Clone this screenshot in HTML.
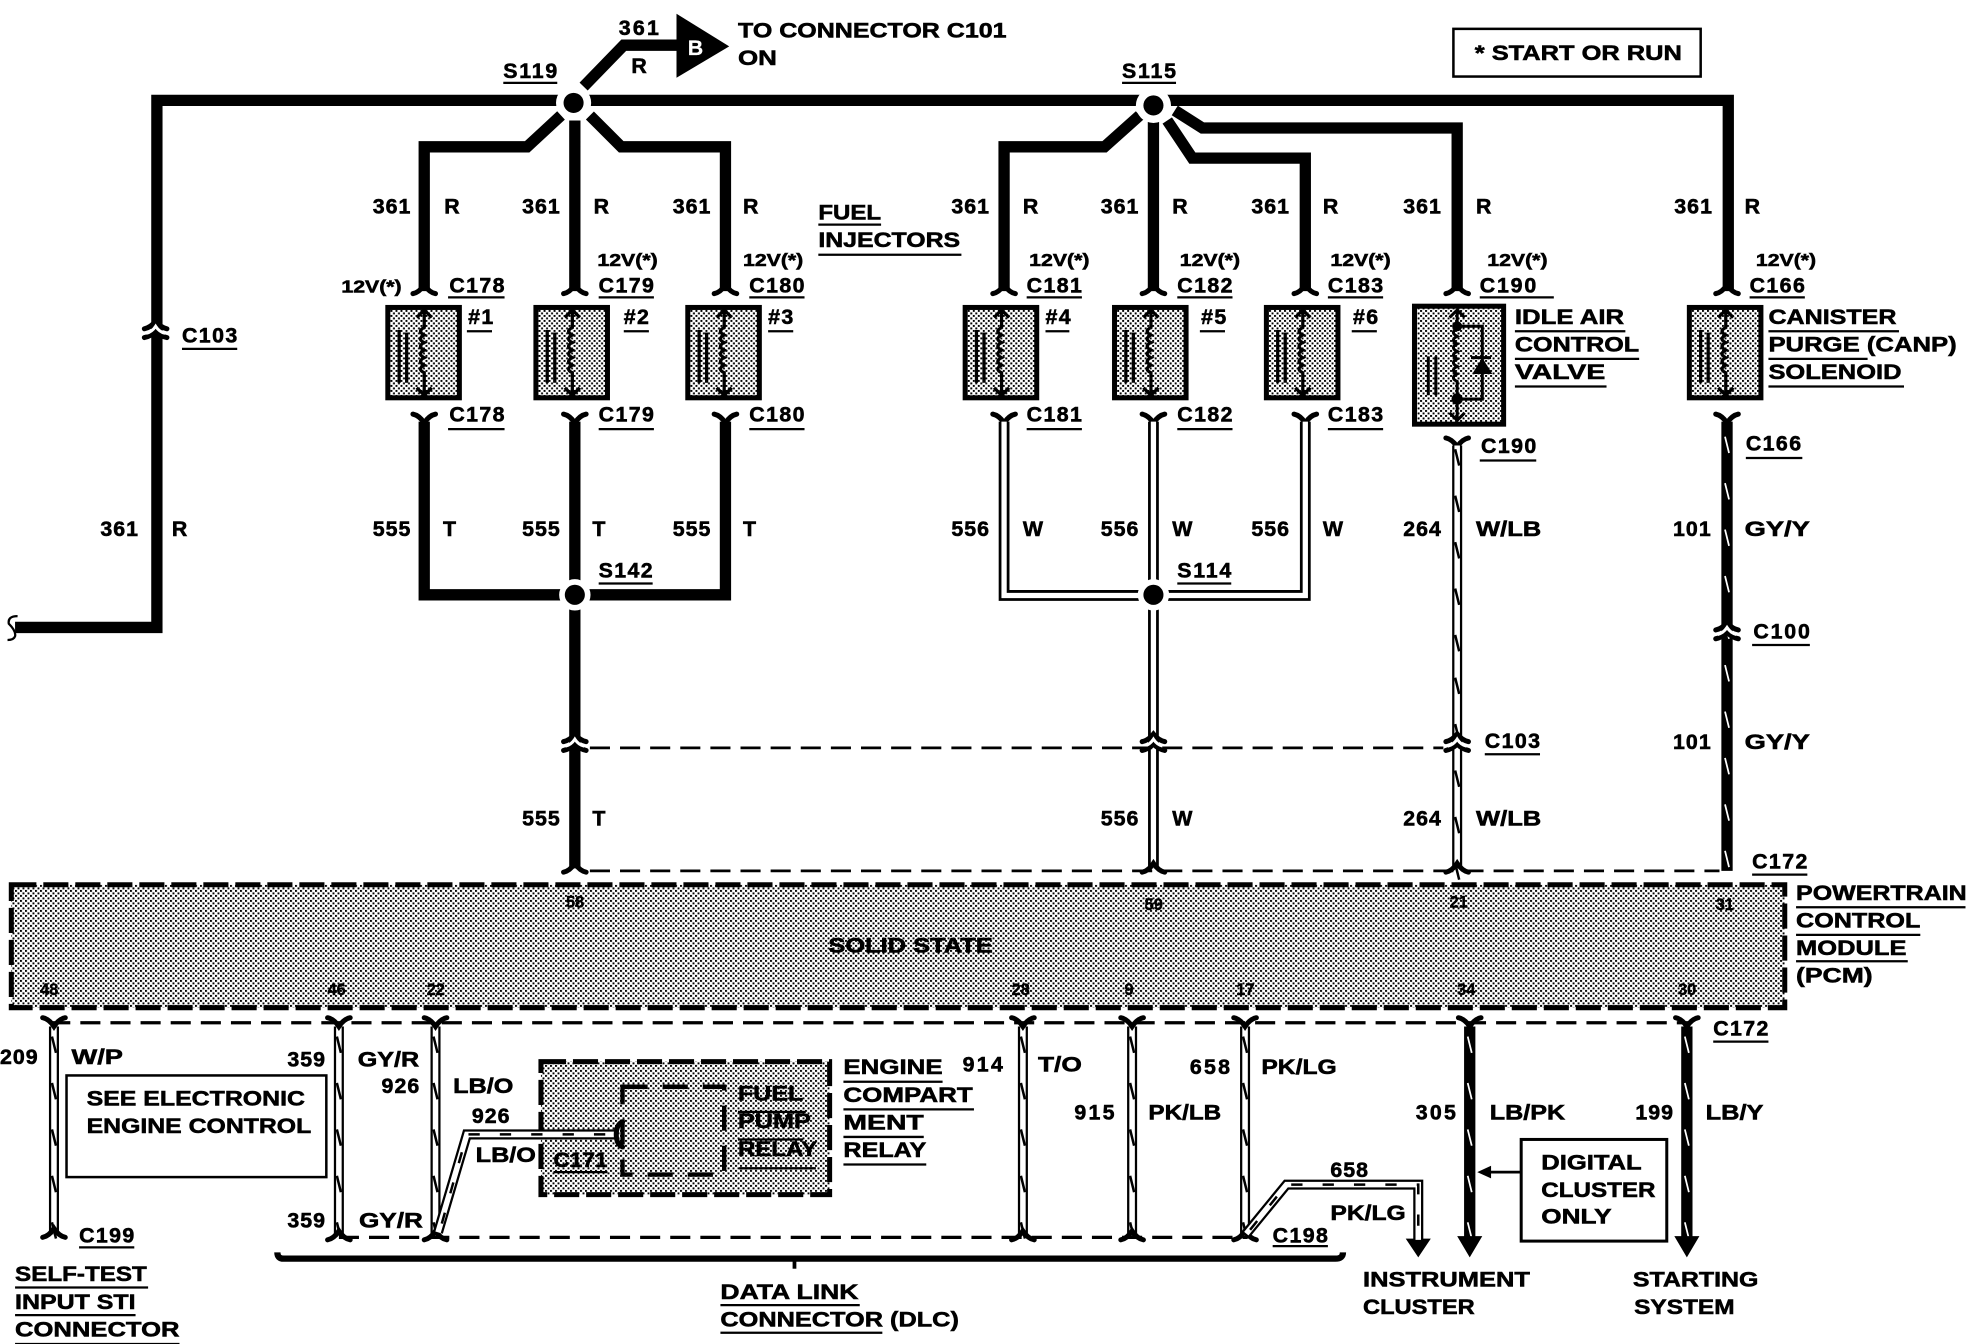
<!DOCTYPE html>
<html><head><meta charset="utf-8"><style>
html,body{margin:0;padding:0;background:#fff}
svg{display:block}
text{font-family:"Liberation Sans",sans-serif;font-weight:bold;font-size:17px;fill:#000;stroke:#000;stroke-width:.45px}
.s{font-size:14px}
.p{font-size:13px;stroke-width:.3px}
.w{fill:none;stroke:#000;stroke-width:9;stroke-linejoin:miter}
.n{fill:none;stroke:#000;stroke-width:2.2}
.u{fill:none;stroke:#000;stroke-width:1.8}
.d{fill:none;stroke:#000;stroke-width:2.2;stroke-dasharray:16 8}
.f{fill:none;stroke:#000;stroke-width:4;stroke-linecap:round}
.o{fill:none;stroke:#000;stroke-width:8}
.i{fill:none;stroke:#fff;stroke-width:4.4}
.k{fill:none;stroke:#000;stroke-width:2}
.t{fill:none;stroke:#fff;stroke-width:1.4}
</style></head><body>
<svg width="1968" height="1344" viewBox="0 0 1568 1071" preserveAspectRatio="none" xmlns="http://www.w3.org/2000/svg">
<defs>
<pattern id="st" width="3.984" height="3.984" patternUnits="userSpaceOnUse"><rect width="3.984" height="3.984" fill="#fff"/><rect width="1.55" height="1.55" fill="#000"/><rect x="1.992" y="1.992" width="1.55" height="1.55" fill="#000"/></pattern>
<path id="tb" d="M-1.6,0l3.2,13M-1.6,37l3.2,13M-1.6,74l3.2,13M-1.6,111l3.2,13M-1.6,148l3.2,13"/>
<g id="fu"><path class="f" d="M-9,7Q-4,6 0,0Q4,6 9,7"/></g>
<g id="fd"><path class="f" d="M-9,0Q-4,1 0,7Q4,1 9,0"/></g>
<g id="ic">
<path class="f" d="M-9,-1Q-4,-2 0,-7Q4,-2 9,-1"/>
<path class="f" d="M-9,6Q-4,5 0,1Q4,5 9,6"/>
<path fill="none" stroke="#fff" stroke-width="2.4" d="M-7.500,2.600Q-3,1.600 0,-3Q3,1.600 7.500,2.600"/>
</g>
<g id="inj">
<rect x="-30" y="2" width="57" height="72" fill="url(#st)" stroke="#000" stroke-width="4"/>
<path fill="none" stroke="#000" stroke-width="2.6" d="M-21,20V62M-15,22V62M-1,4V18q-6,3 0,6q-6,3 0,6q-6,3 0,6q-6,3 0,6q-6,3 0,6q-6,3 0,6V72M-7,10L-1,4L5,10M-7,66L-1,72L5,66"/>
</g>
</defs>

<!-- top wiring -->
<path class="w" d="M12,500H125V80H1377V232"/>
<path fill="none" stroke="#000" stroke-width="1.800" d="M14,491Q6,491 7,497Q13,503 12,507Q11,510 6,510"/>
<use href="#ic" x="124" y="263"/>
<path class="w" d="M465,69L497,36H545"/>
<path d="M539,11L581,37L539,62Z" fill="#000"/>
<path class="w" d="M447,92L420,117H338V232M458,96V232M470,92L495,117H578V232"/>
<path class="w" d="M908,92L880,117H800V232M919,96V232M930,96L950,126H1040V232M936,88L958,102H1161V232"/>
<circle cx="457" cy="82" r="14" fill="#fff"/><circle cx="457" cy="82" r="8" fill="#000"/>
<circle cx="919" cy="84" r="14" fill="#fff"/><circle cx="919" cy="84" r="8" fill="#000"/>

<!-- connectors above devices -->
<use href="#fu" x="338" y="227"/><use href="#fu" x="458" y="227"/><use href="#fu" x="578" y="227"/>
<use href="#fu" x="800" y="227"/><use href="#fu" x="919" y="227"/><use href="#fu" x="1040" y="227"/>
<use href="#fu" x="1161" y="227"/><use href="#fu" x="1376" y="227"/>

<!-- devices -->
<use href="#inj" x="339" y="243"/><use href="#inj" x="457" y="243"/><use href="#inj" x="578" y="243"/>
<use href="#inj" x="799" y="243"/><use href="#inj" x="918" y="243"/><use href="#inj" x="1039" y="243"/>
<use href="#inj" x="1376" y="243"/>
<rect x="1127" y="244" width="71" height="94" fill="url(#st)" stroke="#000" stroke-width="4"/>
<path fill="none" stroke="#000" stroke-width="2.4" d="M1161,247V262q-6,3 0,6q-6,3 0,6q-6,3 0,6q-6,3 0,6q-6,3 0,6q-6,3 0,6q-6,3 0,6V335M1155,253L1161,247L1167,253M1155,329L1161,335L1167,329M1161,260H1181V318H1161M1172,285H1188M1144,284V315M1138,284V315"/>
<path d="M1173,298L1181,285L1189,298Z" fill="#000"/>
<circle cx="1161" cy="260" r="4" fill="#000"/><circle cx="1161" cy="318" r="4.5" fill="#000"/>

<!-- below devices -->
<use href="#fd" x="338" y="330"/><use href="#fd" x="458" y="330"/><use href="#fd" x="578" y="330"/>
<use href="#fd" x="800" y="330"/><use href="#fd" x="919" y="330"/><use href="#fd" x="1040" y="330"/>
<use href="#fd" x="1161" y="349"/><use href="#fd" x="1376" y="330"/>
<path class="w" d="M338,336V474H578V336M458,336V692"/>
<circle cx="458" cy="474" r="12.500" fill="#fff"/><circle cx="458" cy="474" r="8" fill="#000"/>
<path fill="none" stroke="#000" stroke-width="8.600" d="M800,336V474.500H1040V336M919,336V692"/>
<path fill="none" stroke="#fff" stroke-width="4.200" d="M800,336V474.500H1040V336M919,336V692"/>
<circle cx="919" cy="474" r="12.500" fill="#fff"/><circle cx="919" cy="474" r="8" fill="#000"/>
<path class="o" d="M1161,355V692"/><path class="i" d="M1161,355V692"/>
<use href="#tb" class="k" x="1161" y="358"/><use href="#tb" class="k" x="1161" y="540"/>
<path class="w" d="M1376,336V694"/>
<use href="#tb" class="t" x="1376" y="348"/><use href="#tb" class="t" x="1376" y="530"/>
<use href="#ic" x="1376" y="503"/>
<use href="#ic" x="458" y="592"/><use href="#ic" x="919" y="592"/><use href="#ic" x="1161" y="592"/>
<path class="d" d="M470,596H1150"/>
<path class="d" d="M470,694H1370"/>
<use href="#fu" x="458" y="688"/><use href="#fu" x="919" y="688"/><use href="#fu" x="1161" y="688"/>

<!-- PCM -->
<rect x="9" y="705" width="1413" height="98" fill="url(#st)" stroke="#000" stroke-width="4" stroke-dasharray="20 5.500"/>

<!-- lower dashed lines -->
<path class="d" d="M40,815H1346" style="stroke-width:2.6"/>
<path class="d" d="M270,986H994" style="stroke-width:2.6"/>

<!-- lower wires -->
<path class="o" d="M43,818V984M270,818V984M347,818V984M815,818V984M902,818V984M992,818V984"/>
<path class="i" d="M43,818V984M270,818V984M347,818V984M815,818V984M902,818V984M992,818V984"/>
<use href="#tb" class="k" x="43" y="826"/><use href="#tb" class="k" x="270" y="826"/><use href="#tb" class="k" x="347" y="826"/><use href="#tb" class="k" x="815" y="826"/><use href="#tb" class="k" x="902" y="826"/><use href="#tb" class="k" x="992" y="826"/>
<use href="#fd" x="43" y="811"/><use href="#fd" x="270" y="811"/><use href="#fd" x="347" y="811"/><use href="#fd" x="815" y="811"/><use href="#fd" x="902" y="811"/><use href="#fd" x="992" y="811"/><use href="#fd" x="1171" y="811"/><use href="#fd" x="1344" y="811"/>
<use href="#fu" x="43" y="979"/><use href="#fu" x="270" y="981"/><use href="#fu" x="347" y="981"/><use href="#fu" x="815" y="981"/><use href="#fu" x="902" y="981"/><use href="#fu" x="992" y="981"/>
<path class="w" d="M1171,818V990M1344,818V990"/>
<use href="#tb" class="t" x="1171" y="826"/><use href="#tb" class="t" x="1344" y="826"/>
<path d="M1161,985H1181L1171,1002ZM1334,985H1354L1344,1002ZM1120,987H1140L1130,1002Z" fill="#000"/>

<!-- engine compartment -->
<rect x="431" y="846" width="230" height="106" fill="url(#st)" stroke="#000" stroke-width="4" stroke-dasharray="20 5.500"/>
<rect x="496" y="866" width="81" height="70" fill="url(#st)" stroke="#000" stroke-width="3.500" stroke-dasharray="20 12"/>
<!-- LB/O branch -->
<path class="o" d="M349,982L372,904H491"/><path class="i" d="M349,982L372,904H491"/><path class="k" stroke-dasharray="9 16" d="M352,975L372,904H491"/>
<path class="f" d="M496,894Q491,896 491,904Q491,912 496,914"/>
<!-- 658 branch -->
<path class="o" d="M993,983L1025,944H1130V988"/><path class="i" d="M993,983L1025,944H1130V988"/><path class="k" stroke-dasharray="9 16" d="M996,980L1025,944H1130V985"/>

<!-- boxes -->
<rect x="53" y="857" width="207" height="81" fill="#fff" stroke="#000" stroke-width="2"/>
<rect x="1212" y="908" width="116" height="81" fill="#fff" stroke="#000" stroke-width="2.400"/>
<rect x="1158" y="23" width="197" height="38" fill="#fff" stroke="#000" stroke-width="2"/>
<path d="M1177,934L1188,929V939Z" fill="#000"/><path class="n" d="M1186,934H1212"/>
<!-- DLC brace -->
<path d="M221,998Q221,1003 226,1003H1064Q1070,1003 1070,998" fill="none" stroke="#000" stroke-width="5"/>
<path fill="none" stroke="#000" stroke-width="3" d="M633,1005V1011"/>

<!-- underlines -->
<path class="u" d="M401,66H444M894,66H937M357,237H402M477,237H521M597,237H641M818,237H862M938,237H982M1058,237H1102M1179,237H1238M1394,237H1438
M372,264H392M497,264H517M612,264H632M833,264H852M956,264H976M1077,264H1097
M357,342H402M477,342H521M597,342H641M818,342H862M938,342H982M1058,342H1102M1179,367H1224M1391,365H1436
M145,278H189M652,179H702M652,203H766M477,465H520M938,465H981M1396,514H1442M1183,601H1227M1396,697H1440
M1207,264H1295M1207,286H1306M1207,308H1280M1409,264H1513M1409,286H1488M1409,308H1517
M1431,723H1566M1431,745H1530M1431,766H1520
M672,862H751M672,884H776M672,906H736M672,928H738
M588,886H642M588,908H640M589,931H650M441,934H484
M1365,830H1409M63,994H107M1014,993H1058
M12,1026H118M12,1048H108M12,1071H143M574,1040H685M574,1062H703"/>

<!-- texts -->
<text x="493" y="28" textLength="32">361</text><text x="503" y="58">R</text>
<text x="548" y="44" style="fill:#fff;stroke:#fff;stroke-width:.2">B</text>
<text x="588" y="30" textLength="214" lengthAdjust="spacingAndGlyphs">TO CONNECTOR C101</text><text x="588" y="52" textLength="31" lengthAdjust="spacingAndGlyphs">ON</text>
<text x="401" y="62" textLength="43">S119</text><text x="894" y="62" textLength="43">S115</text>
<text x="1175" y="48" textLength="165" lengthAdjust="spacingAndGlyphs">* START OR RUN</text>

<text x="297" y="170" textLength="30">361</text><text x="354" y="170">R</text>
<text x="416" y="170" textLength="30">361</text><text x="473" y="170">R</text>
<text x="536" y="170" textLength="30">361</text><text x="592" y="170">R</text>
<text x="758" y="170" textLength="30">361</text><text x="815" y="170">R</text>
<text x="877" y="170" textLength="30">361</text><text x="934" y="170">R</text>
<text x="997" y="170" textLength="30">361</text><text x="1054" y="170">R</text>
<text x="1118" y="170" textLength="30">361</text><text x="1176" y="170">R</text>
<text x="1334" y="170" textLength="30">361</text><text x="1390" y="170">R</text>
<text x="652" y="175" textLength="50" lengthAdjust="spacingAndGlyphs">FUEL</text><text x="652" y="197" textLength="113" lengthAdjust="spacingAndGlyphs">INJECTORS</text>

<text class="s" x="272" y="233" textLength="48" lengthAdjust="spacingAndGlyphs">12V(*)</text>
<text class="s" x="476" y="212" textLength="48" lengthAdjust="spacingAndGlyphs">12V(*)</text>
<text class="s" x="592" y="212" textLength="48" lengthAdjust="spacingAndGlyphs">12V(*)</text>
<text class="s" x="820" y="212" textLength="48" lengthAdjust="spacingAndGlyphs">12V(*)</text>
<text class="s" x="940" y="212" textLength="48" lengthAdjust="spacingAndGlyphs">12V(*)</text>
<text class="s" x="1060" y="212" textLength="48" lengthAdjust="spacingAndGlyphs">12V(*)</text>
<text class="s" x="1185" y="212" textLength="48" lengthAdjust="spacingAndGlyphs">12V(*)</text>
<text class="s" x="1399" y="212" textLength="48" lengthAdjust="spacingAndGlyphs">12V(*)</text>

<text x="358" y="233" textLength="44">C178</text><text x="477" y="233" textLength="44">C179</text><text x="597" y="233" textLength="44">C180</text>
<text x="818" y="233" textLength="44">C181</text><text x="938" y="233" textLength="44">C182</text><text x="1058" y="233" textLength="44">C183</text>
<text x="1179" y="233" textLength="45">C190</text><text x="1394" y="233" textLength="44">C166</text>
<text x="373" y="258" textLength="20">#1</text><text x="497" y="258" textLength="20">#2</text><text x="612" y="258" textLength="20">#3</text>
<text x="833" y="258" textLength="20">#4</text><text x="957" y="258" textLength="20">#5</text><text x="1078" y="258" textLength="20">#6</text>
<text x="1207" y="258" textLength="87" lengthAdjust="spacingAndGlyphs">IDLE AIR</text><text x="1207" y="280" textLength="99" lengthAdjust="spacingAndGlyphs">CONTROL</text><text x="1207" y="302" textLength="72" lengthAdjust="spacingAndGlyphs">VALVE</text>
<text x="1409" y="258" textLength="102" lengthAdjust="spacingAndGlyphs">CANISTER</text><text x="1409" y="280" textLength="150" lengthAdjust="spacingAndGlyphs">PURGE (CANP)</text><text x="1409" y="302" textLength="106" lengthAdjust="spacingAndGlyphs">SOLENOID</text>
<text x="358" y="336" textLength="44">C178</text><text x="477" y="336" textLength="44">C179</text><text x="597" y="336" textLength="44">C180</text>
<text x="818" y="336" textLength="44">C181</text><text x="938" y="336" textLength="44">C182</text><text x="1058" y="336" textLength="44">C183</text>
<text x="1180" y="361" textLength="44">C190</text><text x="1391" y="359" textLength="44">C166</text>
<text x="145" y="273" textLength="44">C103</text>

<text x="80" y="427" textLength="30">361</text><text x="137" y="427">R</text>
<text x="297" y="427" textLength="30">555</text><text x="353" y="427">T</text>
<text x="416" y="427" textLength="30">555</text><text x="472" y="427">T</text>
<text x="536" y="427" textLength="30">555</text><text x="592" y="427">T</text>
<text x="758" y="427" textLength="30">556</text><text x="815" y="427">W</text>
<text x="877" y="427" textLength="30">556</text><text x="934" y="427">W</text>
<text x="997" y="427" textLength="30">556</text><text x="1054" y="427">W</text>
<text x="1118" y="427" textLength="30">264</text><text x="1176" y="427" textLength="52" lengthAdjust="spacingAndGlyphs">W/LB</text>
<text x="1333" y="427" textLength="30">101</text><text x="1390" y="427" textLength="52" lengthAdjust="spacingAndGlyphs">GY/Y</text>
<text x="477" y="460" textLength="43">S142</text><text x="938" y="460" textLength="43">S114</text>
<text x="1397" y="509" textLength="45">C100</text>
<text x="1183" y="596" textLength="44">C103</text>
<text x="1333" y="597" textLength="30">101</text><text x="1390" y="597" textLength="52" lengthAdjust="spacingAndGlyphs">GY/Y</text>
<text x="416" y="658" textLength="30">555</text><text x="472" y="658">T</text>
<text x="877" y="658" textLength="30">556</text><text x="934" y="658">W</text>
<text x="1118" y="658" textLength="30">264</text><text x="1176" y="658" textLength="52" lengthAdjust="spacingAndGlyphs">W/LB</text>
<text x="1396" y="692" textLength="44">C172</text>

<text class="p" x="451" y="723">58</text><text class="p" x="912" y="725">59</text><text class="p" x="1155" y="723">21</text><text class="p" x="1367" y="725">31</text>
<text x="660" y="759" textLength="131" lengthAdjust="spacingAndGlyphs">SOLID STATE</text>
<text class="p" x="32" y="793">48</text><text class="p" x="261" y="793">46</text><text class="p" x="340" y="793">22</text><text class="p" x="806" y="793">28</text><text class="p" x="896" y="793">9</text><text class="p" x="985" y="793">17</text><text class="p" x="1161" y="793">34</text><text class="p" x="1337" y="793">30</text>
<text x="1431" y="717" textLength="136" lengthAdjust="spacingAndGlyphs">POWERTRAIN</text><text x="1431" y="739" textLength="99" lengthAdjust="spacingAndGlyphs">CONTROL</text><text x="1431" y="761" textLength="88" lengthAdjust="spacingAndGlyphs">MODULE</text><text x="1431" y="783" textLength="61" lengthAdjust="spacingAndGlyphs">(PCM)</text>

<text x="1365" y="825" textLength="44">C172</text>
<text x="0" y="848" textLength="30">209</text><text x="57" y="848" textLength="41" lengthAdjust="spacingAndGlyphs">W/P</text>
<text x="229" y="850" textLength="30">359</text><text x="285" y="850" textLength="49" lengthAdjust="spacingAndGlyphs">GY/R</text>
<text x="304" y="871" textLength="30">926</text><text x="361" y="871" textLength="48" lengthAdjust="spacingAndGlyphs">LB/O</text>
<text x="376" y="895" textLength="30">926</text><text x="379" y="926" textLength="48" lengthAdjust="spacingAndGlyphs">LB/O</text>
<text x="441" y="930" textLength="43" lengthAdjust="spacingAndGlyphs">C171</text>
<text x="69" y="881" textLength="174" lengthAdjust="spacingAndGlyphs">SEE ELECTRONIC</text><text x="69" y="903" textLength="179" lengthAdjust="spacingAndGlyphs">ENGINE CONTROL</text>
<text x="588" y="877" textLength="52" lengthAdjust="spacingAndGlyphs">FUEL</text><text x="588" y="899" textLength="58" lengthAdjust="spacingAndGlyphs">PUMP</text><text x="588" y="921" textLength="63" lengthAdjust="spacingAndGlyphs">RELAY</text>
<text x="672" y="856" textLength="79" lengthAdjust="spacingAndGlyphs">ENGINE</text><text x="672" y="878" textLength="103" lengthAdjust="spacingAndGlyphs">COMPART</text><text x="672" y="900" textLength="64" lengthAdjust="spacingAndGlyphs">MENT</text><text x="672" y="922" textLength="66" lengthAdjust="spacingAndGlyphs">RELAY</text>
<text x="767" y="854" textLength="32">914</text><text x="827" y="854" textLength="35" lengthAdjust="spacingAndGlyphs">T/O</text>
<text x="856" y="892" textLength="32">915</text><text x="915" y="892" textLength="58" lengthAdjust="spacingAndGlyphs">PK/LB</text>
<text x="948" y="856" textLength="32">658</text><text x="1005" y="856" textLength="60" lengthAdjust="spacingAndGlyphs">PK/LG</text>
<text x="1128" y="892" textLength="32">305</text><text x="1187" y="892" textLength="60" lengthAdjust="spacingAndGlyphs">LB/PK</text>
<text x="1303" y="892" textLength="30">199</text><text x="1359" y="892" textLength="46" lengthAdjust="spacingAndGlyphs">LB/Y</text>
<text x="1060" y="938" textLength="30">658</text><text x="1060" y="972" textLength="60" lengthAdjust="spacingAndGlyphs">PK/LG</text>
<text x="1228" y="932" textLength="80" lengthAdjust="spacingAndGlyphs">DIGITAL</text><text x="1228" y="954" textLength="91" lengthAdjust="spacingAndGlyphs">CLUSTER</text><text x="1228" y="975" textLength="56" lengthAdjust="spacingAndGlyphs">ONLY</text>
<text x="229" y="978" textLength="30">359</text><text x="286" y="978" textLength="51" lengthAdjust="spacingAndGlyphs">GY/R</text>
<text x="63" y="990" textLength="44">C199</text><text x="1014" y="990" textLength="44">C198</text>
<text x="12" y="1021" textLength="105" lengthAdjust="spacingAndGlyphs">SELF-TEST</text><text x="12" y="1043" textLength="96" lengthAdjust="spacingAndGlyphs">INPUT STI</text><text x="12" y="1065" textLength="131" lengthAdjust="spacingAndGlyphs">CONNECTOR</text>
<text x="574" y="1035" textLength="110" lengthAdjust="spacingAndGlyphs">DATA LINK</text><text x="574" y="1057" textLength="190" lengthAdjust="spacingAndGlyphs">CONNECTOR (DLC)</text>
<text x="1086" y="1025" textLength="133" lengthAdjust="spacingAndGlyphs">INSTRUMENT</text><text x="1086" y="1047" textLength="89" lengthAdjust="spacingAndGlyphs">CLUSTER</text>
<text x="1301" y="1025" textLength="100" lengthAdjust="spacingAndGlyphs">STARTING</text><text x="1302" y="1047" textLength="80" lengthAdjust="spacingAndGlyphs">SYSTEM</text>
</svg>
</body></html>
